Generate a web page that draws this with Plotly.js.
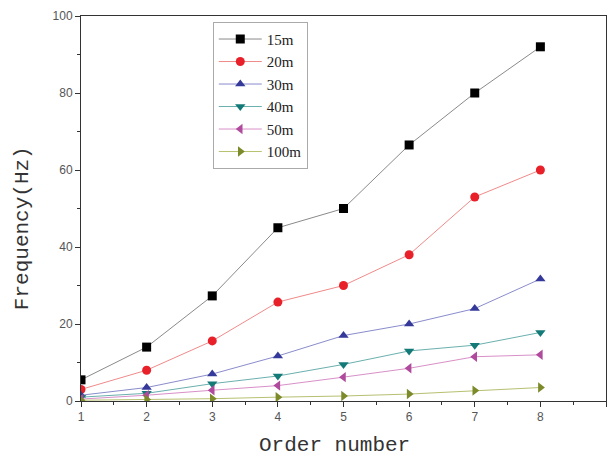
<!DOCTYPE html>
<html><head><meta charset="utf-8">
<script src="https://cdn.plot.ly/plotly-3.0.1.min.js"></script>
<style>html,body{margin:0;padding:0;background:#fff}#chart{width:609px;height:459px}</style>
</head><body><div id="chart"></div>
<script>
const orders = [1,2,3,4,5,6,7,8];
const f15 = [5.5,14,27.3,45,50,66.5,80,92];
const f20 = [3,8,15.6,25.7,30,38,53,60];
const f30 = [1.5,3.5,7,11.7,17,20,24,31.7];
const f40 = [1,2,4.5,6.5,9.5,13,14.5,17.8];
const f50 = [0.5,1.5,2.8,4,6.2,8.5,11.5,12];
const f100 = [0.2,0.4,0.6,1,1.3,1.8,2.7,3.5];
const names = ['15m','20m','30m','40m','50m','100m'];
const xTitle = 'Order number';
const yTitle = 'Frequency(Hz)';
const series = [f15,f20,f30,f40,f50,f100];
const markerColors = ['#000000','#e8202a','#34399a','#137a78','#b04a9c','#7d8a2a'];
const lineColors = ['#8a8a8a','#f08a8a','#8a8ccc','#6ab0ae','#d890c8','#b8c070'];
const symbols = ['square','circle','triangle-up','triangle-down','triangle-left','triangle-right'];
const traces = series.map((s,i)=>({
  x: orders, y: s, name: names[i], type:'scatter', mode:'lines+markers',
  line:{color:lineColors[i], width:1},
  marker:{color:markerColors[i], symbol:symbols[i], size:9}
}));
const titleFont = {family:'Liberation Mono, monospace', size:21, color:'#333'};
const layout = {
  width:609, height:459,
  margin:{l:81, r:3, t:16, b:58},
  paper_bgcolor:'#fff', plot_bgcolor:'#fff',
  showlegend:true,
  legend:{x:0.251, y:0.985, xanchor:'left', yanchor:'top',
    bordercolor:'#aaaaaa', borderwidth:1, bgcolor:'#fff',
    font:{family:'Liberation Serif, serif', size:15, color:'#222'},
    tracegroupgap:0, itemwidth:43},
  xaxis:{range:[1,9], dtick:1, tick0:1, ticks:'outside', ticklen:5, tickcolor:'#333',
    showline:true, linecolor:'#333', linewidth:1, mirror:true, showgrid:false, zeroline:false,
    minor:{dtick:0.5, ticks:'outside', ticklen:3, tickcolor:'#333'},
    tickfont:{family:'Liberation Sans, Arial, sans-serif', size:12, color:'#555'}},
  yaxis:{range:[0,100], dtick:20, ticks:'outside', ticklen:5, tickcolor:'#333',
    showline:true, linecolor:'#333', linewidth:1, mirror:true, showgrid:false, zeroline:false,
    minor:{dtick:10, ticks:'outside', ticklen:3, tickcolor:'#333'},
    tickfont:{family:'Liberation Sans, Arial, sans-serif', size:12, color:'#555'}},
  annotations:[
    {text:xTitle, xref:'paper', yref:'paper', x:0.4838, y:-0.1143, xanchor:'center', yanchor:'middle',
     showarrow:false, font:titleFont},
    {text:yTitle, xref:'paper', yref:'paper', x:-0.1124, y:0.449, xanchor:'center', yanchor:'middle',
     textangle:-90, showarrow:false, font:titleFont}
  ]
};
Plotly.newPlot('chart', traces, layout, {displayModeBar:false, staticPlot:true});
</script></body></html>
